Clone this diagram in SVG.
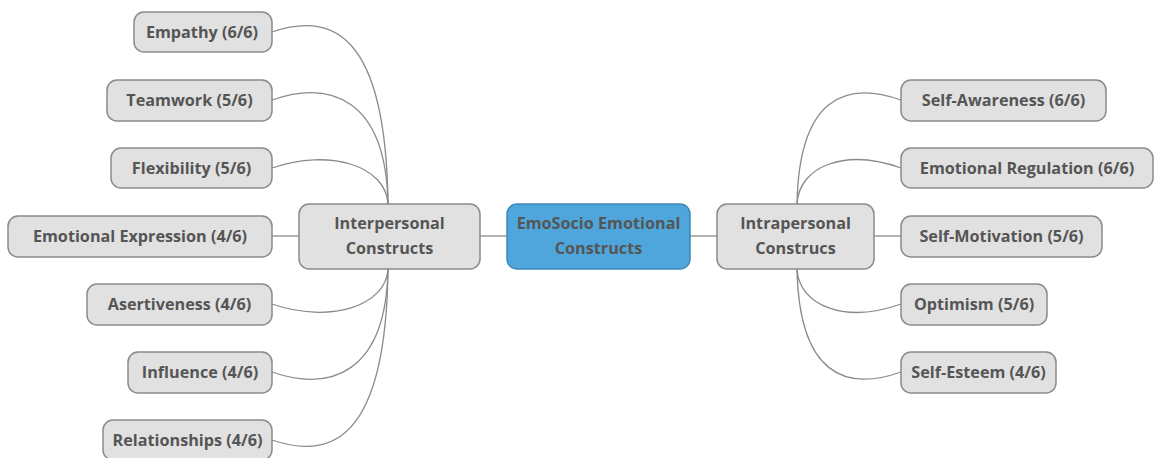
<svg xmlns="http://www.w3.org/2000/svg" width="1154" height="458" viewBox="0 0 1154 458">
<style>
.n rect{fill:#e1e1e1;stroke:#8a8a8a;stroke-width:1.5}
.n text{font-family:"Open Sans","Noto Sans",sans-serif;font-weight:bold;font-size:16.2px;fill:#555;text-anchor:middle}
#center rect{fill:#4ea6dc;stroke:#3c88b6}
.c path{fill:none;stroke:#8a8a8a;stroke-width:1.3}
</style>
<rect width="1154" height="458" fill="#fff"/>
<g class="c" id="connectors">
<path d="M480,236 L507,236"/>
<path d="M690,236 L717,236"/>
<path d="M272,236 L299,236"/>
<path d="M272,32 C330,12 386,30 388,204"/>
<path d="M272,100 C330,80 386,98 388,204"/>
<path d="M272,168 C330,148 386,166 388,204"/>
<path d="M272,304 C330,324 386,306 388,269"/>
<path d="M272,372 C330,392 386,374 388,269"/>
<path d="M272,440 C330,460 386,442 388,269"/>
<path d="M874,236 L901,236"/>
<path d="M901,100 C845,80 799,98 797,204"/>
<path d="M901,168 C845,148 799,166 797,204"/>
<path d="M901,304 C845,324 799,306 797,269"/>
<path d="M901,372 C845,392 799,374 797,269"/>
</g>
<g class="n" id="center"><rect x="507" y="204" width="183" height="65" rx="10"/><text x="598.5" y="229">EmoSocio Emotional</text><text x="598.5" y="254">Constructs</text></g>
<g class="n" id="interpersonal"><rect x="299" y="204" width="181" height="65" rx="10"/><text x="389.5" y="229">Interpersonal</text><text x="389.5" y="254">Constructs</text></g>
<g class="n" id="intrapersonal"><rect x="717" y="204" width="157" height="65" rx="10"/><text x="795.5" y="229">Intrapersonal</text><text x="795.5" y="254">Construcs</text></g>
<g class="n" id="empathy"><rect x="134" y="12" width="138" height="40" rx="10"/><text x="202" y="37.5">Empathy (6/6)</text></g>
<g class="n" id="teamwork"><rect x="107" y="80" width="165" height="41" rx="10"/><text x="189.5" y="106">Teamwork (5/6)</text></g>
<g class="n" id="flexibility"><rect x="111" y="148" width="161" height="40" rx="10"/><text x="191.5" y="173.5">Flexibility (5/6)</text></g>
<g class="n" id="emoexpr"><rect x="8" y="216" width="264" height="41" rx="10"/><text x="140" y="242">Emotional Expression (4/6)</text></g>
<g class="n" id="asertiveness"><rect x="87" y="284" width="185" height="41" rx="10"/><text x="179.5" y="310">Asertiveness (4/6)</text></g>
<g class="n" id="influence"><rect x="128" y="352" width="144" height="41" rx="10"/><text x="200" y="378">Influence (4/6)</text></g>
<g class="n" id="relationships"><rect x="103" y="420" width="169" height="40" rx="10"/><text x="187.5" y="445.5">Relationships (4/6)</text></g>
<g class="n" id="selfawareness"><rect x="901" y="80" width="205" height="41" rx="10"/><text x="1003.5" y="106">Self-Awareness (6/6)</text></g>
<g class="n" id="emoreg"><rect x="901" y="148" width="252" height="40" rx="10"/><text x="1027" y="173.5">Emotional Regulation (6/6)</text></g>
<g class="n" id="selfmotivation"><rect x="901" y="216" width="201" height="41" rx="10"/><text x="1001.5" y="242">Self-Motivation (5/6)</text></g>
<g class="n" id="optimism"><rect x="901" y="284" width="146" height="41" rx="10"/><text x="974" y="310">Optimism (5/6)</text></g>
<g class="n" id="selfesteem"><rect x="901" y="352" width="155" height="41" rx="10"/><text x="978.5" y="378">Self-Esteem (4/6)</text></g>
</svg>
